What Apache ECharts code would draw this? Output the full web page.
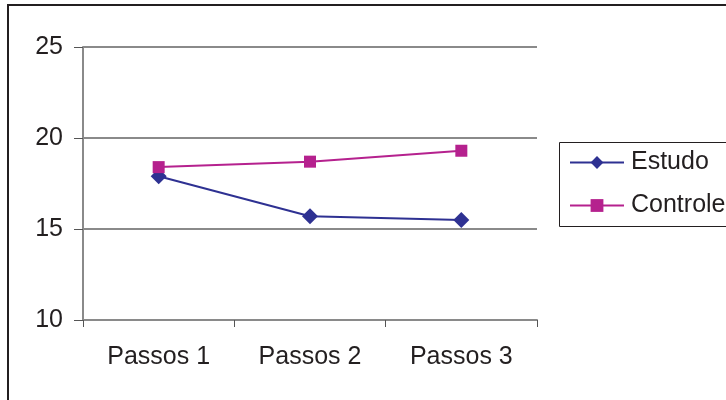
<!DOCTYPE html>
<html>
<head>
<meta charset="utf-8">
<script src="https://cdn.jsdelivr.net/npm/echarts@6/dist/echarts.min.js"></script>
<style>
  html, body { margin: 0; padding: 0; background: #ffffff; }
  #chart { width: 726px; height: 400px; }
</style>
</head>
<body>
<div id="chart"></div>
<script>
// Categories and series values
const categories = ['Passos 1', 'Passos 2', 'Passos 3'];
const estudo = [17.9, 15.7, 15.5];
const controle = [18.4, 18.7, 19.3];
const yTicks = { min: 10, max: 25, step: 5 };

const FONT = '"Liberation Sans", Arial, sans-serif';
const TEXT = '#231f20';
const GRID = '#8a8a8a';

const chart = echarts.init(document.getElementById('chart'), null, { renderer: 'canvas' });

chart.setOption({
  backgroundColor: '#ffffff',
  animation: false,
  graphic: [
    {
      type: 'rect',
      shape: { x: 8, y: 5, width: 760, height: 440 },
      style: { fill: 'none', stroke: '#231f20', lineWidth: 2 },
      z: 0
    },
    {
      type: 'rect',
      shape: { x: 559.5, y: 142.5, width: 200, height: 84 },
      style: { fill: '#ffffff', stroke: '#231f20', lineWidth: 1 },
      z: 1
    }
  ],
  grid: { left: 83, right: 189, top: 47, bottom: 80, containLabel: false },
  legend: {
    orient: 'vertical',
    left: 569,
    top: 150,
    itemWidth: 54,
    itemHeight: 16,
    itemGap: 18,
    padding: 0,
    textStyle: { fontFamily: FONT, fontSize: 25, color: TEXT, padding: [0, 0, 0, 2] },
    data: ['Estudo', 'Controle'],
    z: 5
  },
  xAxis: {
    type: 'category',
    data: categories,
    boundaryGap: true,
    axisLine: { lineStyle: { color: GRID, width: 2 } },
    axisTick: { show: true, length: 7, lineStyle: { color: '#555', width: 1 } },
    axisLabel: { fontFamily: FONT, fontSize: 25, color: TEXT, margin: 25 },
    splitLine: { show: false }
  },
  yAxis: {
    type: 'value',
    min: yTicks.min,
    max: yTicks.max,
    interval: yTicks.step,
    axisLine: { show: true, lineStyle: { color: GRID, width: 2 } },
    axisTick: { show: true, length: 9, lineStyle: { color: '#555', width: 1 } },
    axisLabel: { fontFamily: FONT, fontSize: 25, color: TEXT, margin: 20 },
    splitLine: { show: true, lineStyle: { color: GRID, width: 2 } }
  },
  series: [
    {
      name: 'Estudo',
      type: 'line',
      data: estudo,
      symbol: 'diamond',
      symbolSize: 16,
      lineStyle: { color: '#2e3192', width: 2 },
      itemStyle: { color: '#2e3192' },
      z: 3
    },
    {
      name: 'Controle',
      type: 'line',
      data: controle,
      symbol: 'rect',
      symbolSize: 12,
      lineStyle: { color: '#b5218e', width: 2 },
      itemStyle: { color: '#b5218e' },
      z: 3
    }
  ]
});
</script>
</body>
</html>
